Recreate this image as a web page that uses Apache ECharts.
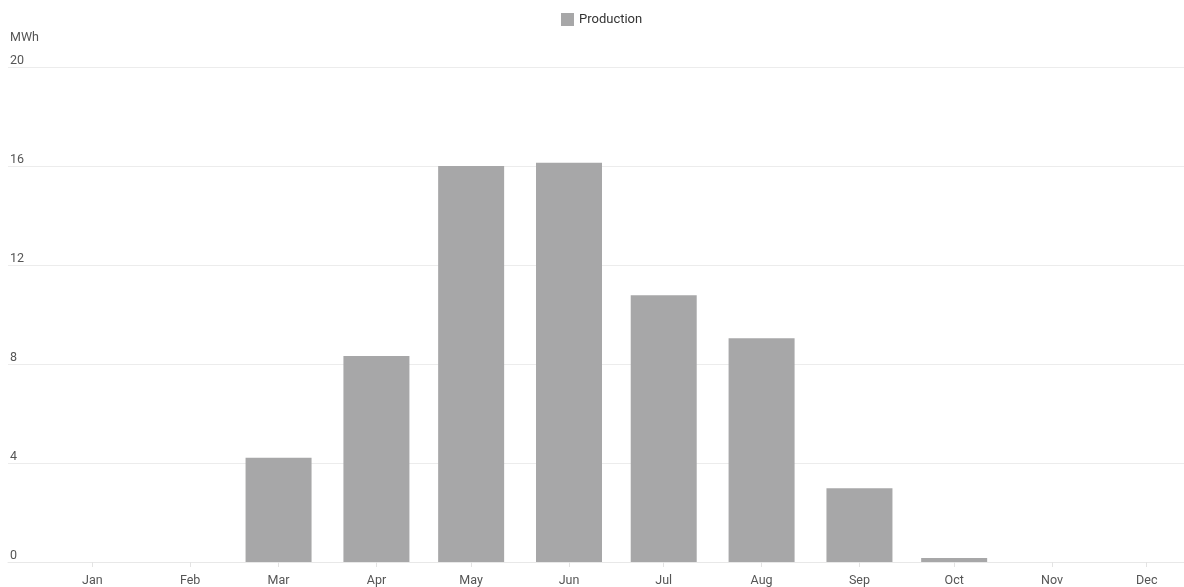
<!DOCTYPE html>
<html>
<head>
<meta charset="utf-8">
<title>Production</title>
<script src="https://cdn.jsdelivr.net/npm/echarts@6/dist/echarts.min.js"></script>
<style>
  html, body { margin: 0; padding: 0; background: #fff; }
  #chart { width: 1184px; height: 587px; }
</style>
</head>
<body>
<div id="chart"></div>
<script>
// Monthly energy production, MWh
const YEAR = 2023;
const monthNames = ['Jan', 'Feb', 'Mar', 'Apr', 'May', 'Jun', 'Jul', 'Aug', 'Sep', 'Oct', 'Nov', 'Dec'];
const production = [0, 0, 4.21, 8.32, 16.0, 16.13, 10.78, 9.04, 2.98, 0.16, 0, 0];
const yTicks = [0, 4, 8, 12, 16, 20];

// x position of each month = day of year on which it starts
const DAY = 24 * 3600 * 1000;
const yearStart = Date.UTC(YEAR, 0, 1);
const monthStarts = monthNames.map((_, i) => (Date.UTC(YEAR, i, 1) - yearStart) / DAY);
const seriesData = monthStarts.map((d, i) => [d, production[i]]);

const chart = echarts.init(document.getElementById('chart'));
chart.setOption({
  animation: false,
  textStyle: { fontFamily: 'Roboto, "Noto Sans", sans-serif' },
  legend: {
    data: ['Production'],
    left: 556,
    top: 8,
    icon: 'rect',
    itemWidth: 13,
    itemHeight: 13,
    itemGap: 6,
    textStyle: { color: '#333', fontSize: 13 }
  },
  grid: { left: 8, right: 0, top: 67, bottom: 25, containLabel: false },
  xAxis: {
    type: 'value',
    min: monthStarts[0] - 26.7,
    max: monthStarts[11] + 11.8,
    axisLine: { show: true, lineStyle: { color: '#e8e8e8', width: 1 } },
    axisTick: {
      show: true,
      length: 5,
      customValues: monthStarts,
      lineStyle: { color: '#e3e3e3' }
    },
    axisLabel: {
      customValues: monthStarts,
      margin: 12,
      color: '#555',
      fontSize: 12.5,
      formatter: (v) => monthNames[monthStarts.indexOf(v)]
    },
    splitLine: { show: false }
  },
  yAxis: {
    type: 'value',
    min: 0,
    max: 20,
    interval: 4,
    name: 'MWh',
    nameLocation: 'end',
    nameGap: 29,
    nameTextStyle: {
      color: '#555',
      fontSize: 12.5,
      align: 'left',
      verticalAlign: 'middle',
      padding: [0, 0, 0, 2]
    },
    axisLine: { show: false, onZero: false },
    axisTick: { show: false },
    axisLabel: {
      inside: true,
      margin: 2,
      color: '#555',
      fontSize: 12.5,
      verticalAlign: 'bottom',
      padding: [0, 0, 0, 0],
      formatter: (v) => (yTicks.includes(v) ? String(v) : '')
    },
    splitLine: { show: true, lineStyle: { color: '#ececec', width: 1 } }
  },
  series: [{
    name: 'Production',
    type: 'bar',
    data: seriesData,
    barWidth: 66,
    itemStyle: { color: '#a7a7a8' }
  }]
});
</script>
</body>
</html>
